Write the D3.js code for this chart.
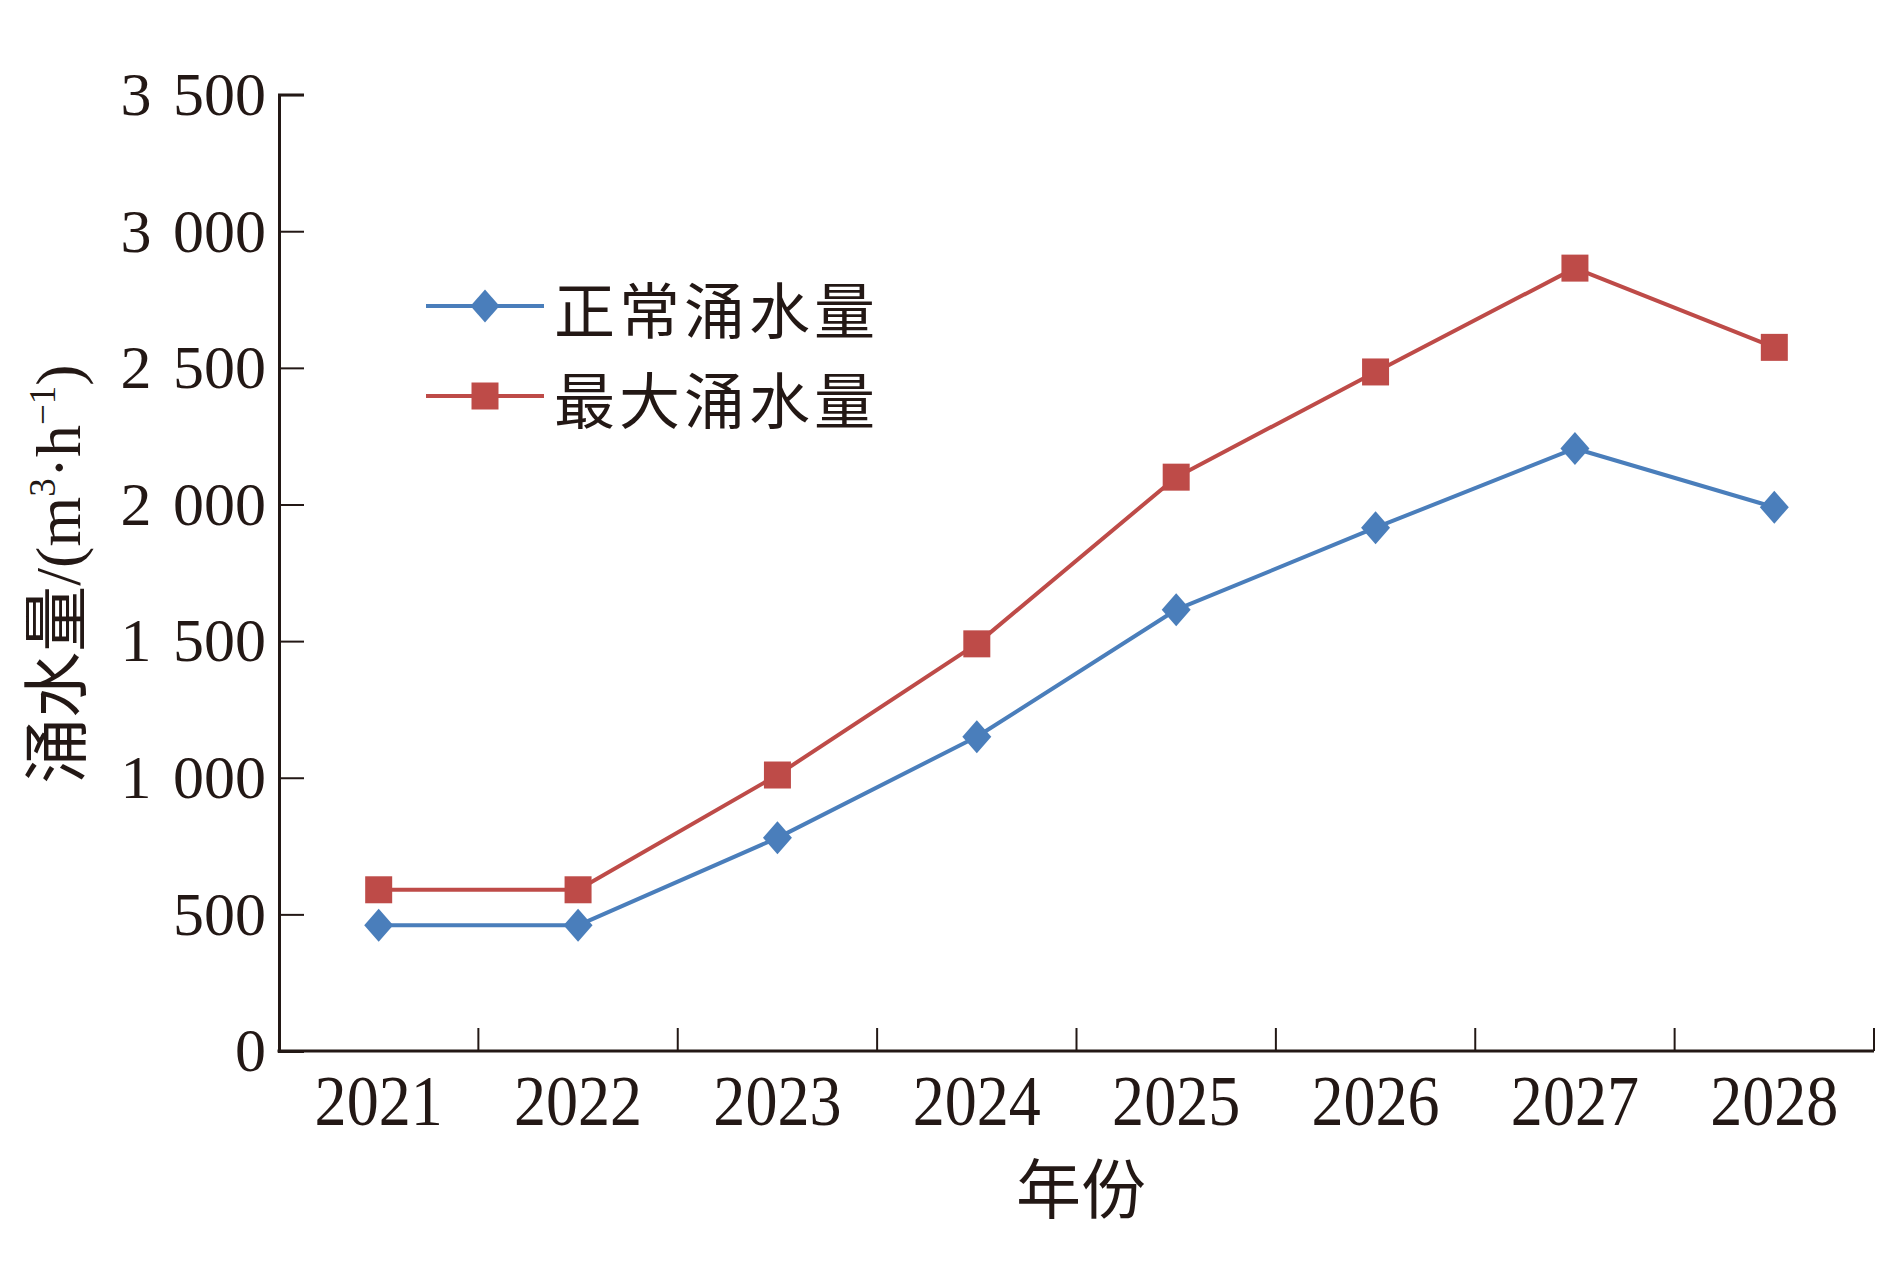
<!DOCTYPE html>
<html>
<head>
<meta charset="utf-8">
<script src="https://cdn.jsdelivr.net/npm/d3@7"></script>
<style>
  html, body { margin: 0; padding: 0; background: #fff; }
  svg { display: block; }
</style>
</head>
<body>
<svg id="chart" width="1877" height="1280"></svg>
<script>
// ---- data ----
const years = ["2021", "2022", "2023", "2024", "2025", "2026", "2027", "2028"];
const normalInflow = [460, 460, 780, 1150, 1615, 1915, 2205, 1990];
const maxInflow = [590, 590, 1010, 1490, 2100, 2485, 2865, 2575];
const yTicks = [0, 500, 1000, 1500, 2000, 2500, 3000, 3500];
const seriesNames = ["正常涌水量", "最大涌水量"];
const xTitle = "年份";

// ---- layout ----
const plotLeft = 279, plotRight = 1874, plotTop = 94.6, plotBottom = 1051;
const ink = "#231815";
const blue = "#4a7ebb";
const red = "#be4b48";
const serif = "'Liberation Serif','Times New Roman',serif";
const cjk = "'Noto Sans CJK SC','Noto Sans CJK JP',sans-serif";

const svg = d3.select("#chart");

const x = d3.scaleBand().domain(years).range([plotLeft, plotRight]).padding(0);
const y = d3.scaleLinear().domain([0, 3500]).range([plotBottom, plotTop]);
const cx = d => x(d) + x.bandwidth() / 2;

const fmt = d3.formatLocale({ decimal: ".", thousands: " ", grouping: [3], currency: ["", ""] }).format(",d");

// y axis
const yAxis = svg.append("g")
  .attr("transform", `translate(${plotLeft},0)`)
  .call(d3.axisLeft(y).tickValues(yTicks).tickSize(-25).tickPadding(13).tickFormat(fmt));
yAxis.select(".domain").attr("stroke", ink).attr("stroke-width", 3);
yAxis.selectAll(".tick line").attr("stroke", ink).attr("stroke-width", 2);
yAxis.selectAll(".tick text")
  .attr("fill", ink)
  .style("font-family", serif)
  .style("font-size", "62px")
  .style("word-spacing", "6px");

// x axis (labels at band centers)
const xAxis = svg.append("g")
  .attr("transform", `translate(0,${plotBottom})`)
  .call(d3.axisBottom(x).tickSize(0).tickPadding(0));
xAxis.select(".domain").remove();
xAxis.selectAll(".tick text")
  .attr("fill", ink)
  .attr("y", 74).attr("dy", null)
  .attr("transform", "scale(0.89,1)")
  .style("font-family", serif)
  .style("font-size", "72px");

// x axis line
svg.append("line")
  .attr("x1", plotLeft - 1.5).attr("x2", plotRight)
  .attr("y1", plotBottom).attr("y2", plotBottom)
  .attr("stroke", ink).attr("stroke-width", 3);

// x ticks at band boundaries (inward)
const bounds = years.slice(1).map(d => x(d)).concat([x(years[years.length - 1]) + x.bandwidth()]);
svg.append("g").selectAll("line").data(bounds).join("line")
  .attr("x1", d => d).attr("x2", d => d)
  .attr("y1", plotBottom).attr("y2", plotBottom - 23)
  .attr("stroke", ink).attr("stroke-width", 2);

// series
const series = [
  { name: seriesNames[0], values: normalInflow, color: blue, marker: "diamond" },
  { name: seriesNames[1], values: maxInflow, color: red, marker: "square" }
];

const line = d3.line().x((d, i) => cx(years[i])).y(d => y(d));

function markerPath(type) {
  if (type === "diamond") {
    const w = 14.5, h = 16.5;
    return `M0,${-h} L${w},0 L0,${h} L${-w},0 Z`;
  }
  const s = 13.5;
  return `M${-s},${-s} H${s} V${s} H${-s} Z`;
}

series.forEach(s => {
  svg.append("path")
    .datum(s.values)
    .attr("d", line)
    .attr("fill", "none")
    .attr("stroke", s.color)
    .attr("stroke-width", 4)
    .attr("stroke-linejoin", "round");
  svg.append("g").selectAll("path").data(s.values).join("path")
    .attr("transform", (d, i) => `translate(${cx(years[i])},${y(d)})`)
    .attr("d", markerPath(s.marker))
    .attr("fill", s.color);
});

// legend
const legendY = [306, 396];
series.forEach((s, i) => {
  const g = svg.append("g").attr("transform", `translate(0,${legendY[i]})`);
  g.append("line").attr("x1", 426).attr("x2", 544).attr("y1", 0).attr("y2", 0)
    .attr("stroke", s.color).attr("stroke-width", 4);
  g.append("path").attr("transform", "translate(485,0)").attr("d", markerPath(s.marker)).attr("fill", s.color);
  g.append("text").attr("x", 554).attr("y", 1)
    .attr("dominant-baseline", "central")
    .attr("fill", ink)
    .style("font-family", cjk)
    .style("font-size", "61px")
    .style("letter-spacing", "4px")
    .text(s.name);
});

// x title
svg.append("text")
  .attr("x", 1081).attr("y", 1185)
  .attr("text-anchor", "middle")
  .attr("dominant-baseline", "central")
  .attr("fill", ink)
  .style("font-family", cjk)
  .style("font-size", "65px")
  .text(xTitle);

// y title
const yt = svg.append("text")
  .attr("transform", "translate(80,574) rotate(-90)")
  .attr("text-anchor", "middle")
  .attr("fill", ink)
  .style("font-size", "64px");
yt.append("tspan").style("font-family", cjk).style("font-size", "66px").text("涌水量");
yt.append("tspan").style("font-family", serif).text("/(m");
yt.append("tspan").style("font-family", serif).style("font-size", "37px").attr("dy", -25).text("3");
yt.append("tspan").style("font-family", serif).attr("dy", 25).text("·h");
yt.append("tspan").style("font-family", serif).style("font-size", "37px").attr("dy", -25).text("−1");
yt.append("tspan").style("font-family", serif).attr("dy", 25).text(")");
</script>
</body>
</html>
